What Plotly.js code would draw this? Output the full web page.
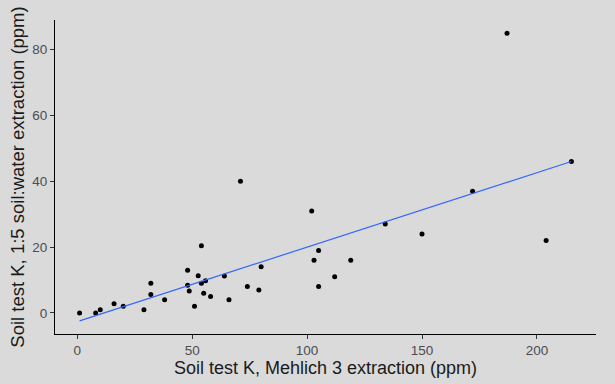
<!DOCTYPE html>
<html>
<head>
<meta charset="utf-8">
<script src="https://cdn.plot.ly/plotly-3.0.1.min.js"></script>
<style>html,body{margin:0;padding:0;background:#dadada;}</style>
</head>
<body>
<div id="chart" style="width:615px;height:384px;"></div>
<script>
// Soil test K: Mehlich 3 (x) vs 1:5 soil:water extraction (y), ppm
const mehlich3 = [1, 8, 10, 16, 20, 29, 32, 32, 38, 48, 48, 48.7, 51, 54, 52.6, 54, 55.8, 55, 58, 64, 66,
                  71, 80, 74, 79, 102, 105, 103, 105, 112, 119, 187, 215, 172, 204, 150, 134];
const water15  = [0, 0, 1, 2.8, 2, 1, 9, 5.6, 4, 13, 8.4, 6.7, 2, 20.4, 11.3, 9, 9.8, 6, 5, 11.2, 4,
                  40, 14, 8, 7, 31, 19, 16, 8, 11, 16, 85, 46, 37, 22, 24, 27];
// fitted linear trend (endpoints)
const fitX = [1, 215];
const fitY = [-2.4, 46];

const xTicks = [0, 50, 100, 150, 200];
const yTicks = [0, 20, 40, 60, 80];

const traces = [
  {x: mehlich3, y: water15, type: 'scatter', mode: 'markers',
   marker: {color: '#000000', size: 5}, hoverinfo: 'x+y'},
  {x: fitX, y: fitY, type: 'scatter', mode: 'lines',
   line: {color: '#3366FF', width: 1.2}}
];

const FONT = 'Liberation Sans, Arial, sans-serif';
const axisCommon = {
  showgrid: false, zeroline: false, showline: true, linecolor: '#000000', linewidth: 1,
  ticks: 'outside', ticklen: 4, tickcolor: '#333333', tickwidth: 1,
  tickfont: {family: FONT, size: 13.5, color: '#4d4d4d'},
  mirror: false, automargin: false
};

const layout = {
  width: 615, height: 384,
  paper_bgcolor: '#dadada', plot_bgcolor: '#dadada',
  showlegend: false,
  margin: {l: 55, r: 19, t: 20, b: 50},
  font: {family: FONT},
  xaxis: Object.assign({}, axisCommon, {
    range: [-9.7, 225.7], tickvals: xTicks, ticktext: xTicks.map(String),
    title: {text: 'Soil test K, Mehlich 3 extraction (ppm)', standoff: 0,
            font: {family: FONT, size: 18, color: '#1a1a1a'}}
  }),
  yaxis: Object.assign({}, axisCommon, {
    range: [-6.4, 89], tickvals: yTicks, ticktext: yTicks.map(String),
    title: {text: 'Soil test K, 1:5 soil:water extraction (ppm)', standoff: 2,
            font: {family: FONT, size: 18.5, color: '#1a1a1a'}}
  })
};

Plotly.newPlot('chart', traces, layout, {displayModeBar: false, staticPlot: true});
</script>
</body>
</html>
